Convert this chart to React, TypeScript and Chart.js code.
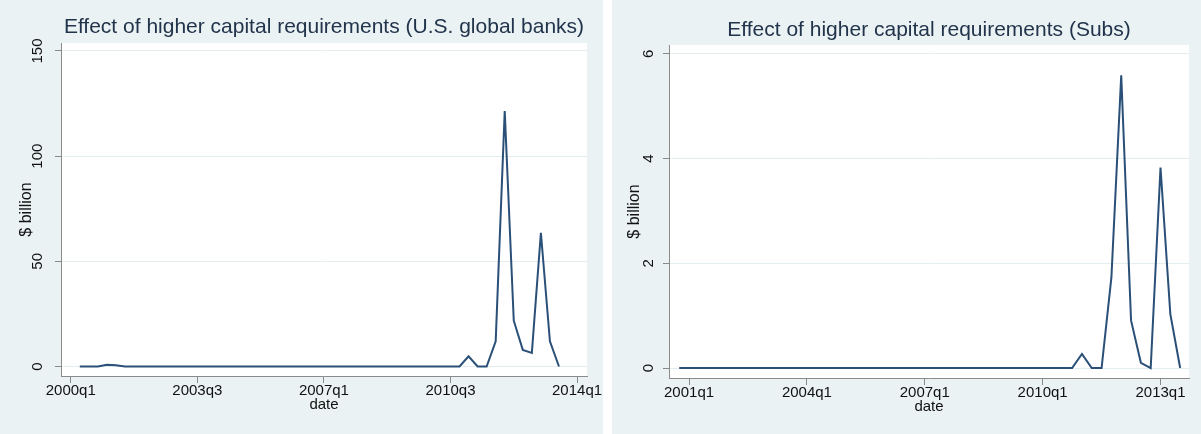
import React, { useEffect, useRef } from "react";
import { Chart, registerables } from "chart.js";

Chart.register(...registerables);

// ---------- data ----------
const leftTitle = "Effect of higher capital requirements (U.S. global banks)";
const rightTitle = "Effect of higher capital requirements (Subs)";
const yAxisTitle = "$ billion";
const xAxisTitle = "date";

// U.S. global banks: quarterly values starting 2000q2
const leftStart = "2000q2";
const leftValues = [
  0, 0, 0, 0.8, 0.6,
  0, 0, 0, 0, 0, 0, 0, 0, 0, 0,
  0, 0, 0, 0, 0, 0, 0, 0, 0, 0,
  0, 0, 0, 0, 0, 0, 0, 0, 0, 0,
  0, 0, 0, 0, 0, 0, 0, 0,
  4.9, 0, 0, 12, 121.5, 21.8, 7.9, 6.5, 63.6, 12, 0,
];

// Subs: quarterly values starting 2000q4
const rightStart = "2000q4";
const rightValues = [
  0, 0, 0, 0, 0, 0, 0, 0, 0, 0,
  0, 0, 0, 0, 0, 0, 0, 0, 0, 0,
  0, 0, 0, 0, 0, 0, 0, 0, 0, 0,
  0, 0, 0, 0, 0, 0, 0, 0, 0, 0,
  0,
  0.27, 0, 0, 1.73, 5.59, 0.91, 0.1, 0, 3.83, 1.03, 0,
];

const leftXTicks = ["2000q1", "2003q3", "2007q1", "2010q3", "2014q1"];
const rightXTicks = ["2001q1", "2004q1", "2007q1", "2010q1", "2013q1"];
const leftYTicks = [0, 50, 100, 150];
const rightYTicks = [0, 2, 4, 6];

// ---------- style ----------
const FONT = '"Liberation Sans", Arial, Helvetica, sans-serif';
const BG = "#eaf2f3";
const GRID = "#e4eef0";
const AXIS = "#8a8a8a";
const LINE = "#2a5078";
const TEXT = "#111111";
const TITLE_COLOR = "#22344c";

function qIndex(label: string): number {
  const [y, q] = label.split("q");
  return (Number(y) - 2000) * 4 + Number(q) - 1;
}

type PanelProps = {
  left: number;
  width: number;
  title: string;
  start: string;
  values: number[];
  xTicks: string[];
  yTicks: number[];
  xMin: number;
  xMax: number;
  yMin: number;
  yMax: number;
  plotLeft: number;
  plotTop: number;
  padRight: number;
  xHeight: number;
  yLabelX: number;
  yTitleX: number;
  titleY: number;
};

function Panel(p: PanelProps) {
  const ref = useRef<HTMLCanvasElement>(null);
  useEffect(() => {
    const canvas = ref.current;
    if (!canvas) return;
    const s0 = qIndex(p.start);
    const bgPlugin = {
      id: "bgPlugin",
      beforeDraw(chart: any) {
        const { ctx, chartArea } = chart;
        ctx.save();
        ctx.fillStyle = BG;
        ctx.fillRect(0, 0, chart.width, chart.height);
        ctx.fillStyle = "#ffffff";
        ctx.fillRect(
          chartArea.left,
          chartArea.top,
          chartArea.right - chartArea.left,
          chartArea.bottom - chartArea.top
        );
        ctx.restore();
      },
    };
    const labelPlugin = {
      id: "labelPlugin",
      afterDraw(chart: any) {
        const { ctx, chartArea } = chart;
        const xs = chart.scales.x;
        const ys = chart.scales.y;
        const cx = (chartArea.left + chartArea.right) / 2;
        const cy = (chartArea.top + chartArea.bottom) / 2;
        ctx.save();
        ctx.textAlign = "center";
        ctx.textBaseline = "middle";
        ctx.font = `21px ${FONT}`;
        ctx.fillStyle = TITLE_COLOR;
        ctx.fillText(p.title, cx, p.titleY);
        ctx.fillStyle = TEXT;
        ctx.font = `15px ${FONT}`;
        p.xTicks.forEach((l) => {
          ctx.fillText(l, xs.getPixelForValue(qIndex(l)), chartArea.bottom + 15);
        });
        ctx.fillText(xAxisTitle, cx, chartArea.bottom + 29);
        p.yTicks.forEach((v) => {
          const y = ys.getPixelForValue(v);
          ctx.save();
          ctx.translate(p.yLabelX, y);
          ctx.rotate(-Math.PI / 2);
          ctx.fillText(String(v), 0, 0);
          ctx.restore();
        });
        ctx.font = `16px ${FONT}`;
        ctx.save();
        ctx.translate(p.yTitleX, cy);
        ctx.rotate(-Math.PI / 2);
        ctx.fillText(yAxisTitle, 0, 0);
        ctx.restore();
        ctx.restore();
      },
    };
    const chart = new Chart(canvas, {
      type: "line",
      data: {
        datasets: [
          {
            data: p.values.map((v, i) => ({ x: s0 + i, y: v })),
            borderColor: LINE,
            borderWidth: 2,
            pointRadius: 0,
            tension: 0,
            fill: false,
          },
        ],
      },
      options: {
        animation: false,
        responsive: false,
        maintainAspectRatio: false,
        devicePixelRatio: 1,
        layout: { padding: { top: p.plotTop, left: 0, right: p.padRight, bottom: 0 } },
        plugins: {
          legend: { display: false },
          tooltip: { enabled: false },
          title: { display: false },
        },
        scales: {
          x: {
            type: "linear",
            min: p.xMin,
            max: p.xMax,
            afterBuildTicks: (s: any) => {
              s.ticks = p.xTicks.map((l) => ({ value: qIndex(l) }));
            },
            ticks: { display: false },
            grid: {
              display: true,
              drawOnChartArea: false,
              drawTicks: true,
              tickLength: 7,
              tickColor: AXIS,
              tickWidth: 1,
            },
            border: { display: true, color: AXIS, width: 1 },
            afterFit: (s: any) => {
              s.height = p.xHeight;
              s.paddingLeft = 0;
              s.paddingRight = 0;
            },
          },
          y: {
            type: "linear",
            min: p.yMin,
            max: p.yMax,
            afterBuildTicks: (s: any) => {
              s.ticks = p.yTicks.map((v) => ({ value: v }));
            },
            ticks: { display: false },
            grid: {
              display: true,
              color: GRID,
              lineWidth: 1,
              drawTicks: true,
              tickLength: 6,
              tickColor: AXIS,
              tickWidth: 1,
            },
            border: { display: true, color: AXIS, width: 1 },
            afterFit: (s: any) => {
              s.width = p.plotLeft;
              s.paddingTop = 0;
              s.paddingBottom = 0;
            },
          },
        },
      } as any,
      plugins: [bgPlugin, labelPlugin],
    });
    return () => chart.destroy();
  }, []);
  return (
    <canvas
      ref={ref}
      width={p.width}
      height={434}
      style={{ position: "absolute", left: p.left, top: 0, width: p.width, height: 434, display: "block" }}
    />
  );
}

export default function App() {
  useEffect(() => {
    document.body.style.margin = "0";
  }, []);
  return (
    <div style={{ position: "relative", width: 1201, height: 434, background: "#ffffff", overflow: "hidden" }}>
      <Panel
        left={0}
        width={603}
        title={leftTitle}
        start={leftStart}
        values={leftValues}
        xTicks={leftXTicks}
        yTicks={leftYTicks}
        xMin={-1.08}
        xMax={57.1}
        yMin={-4.5}
        yMax={153.8}
        plotLeft={61}
        plotTop={43}
        padRight={16}
        xHeight={58}
        yLabelX={38}
        yTitleX={27}
        titleY={27}
      />
      <Panel
        left={612}
        width={589}
        title={rightTitle}
        start={rightStart}
        values={rightValues}
        xTicks={rightXTicks}
        yTicks={rightYTicks}
        xMin={1.96}
        xMax={54.9}
        yMin={-0.19}
        yMax={6.17}
        plotLeft={57}
        plotTop={45}
        padRight={12}
        xHeight={56}
        yLabelX={37}
        yTitleX={23}
        titleY={30}
      />
    </div>
  );
}
